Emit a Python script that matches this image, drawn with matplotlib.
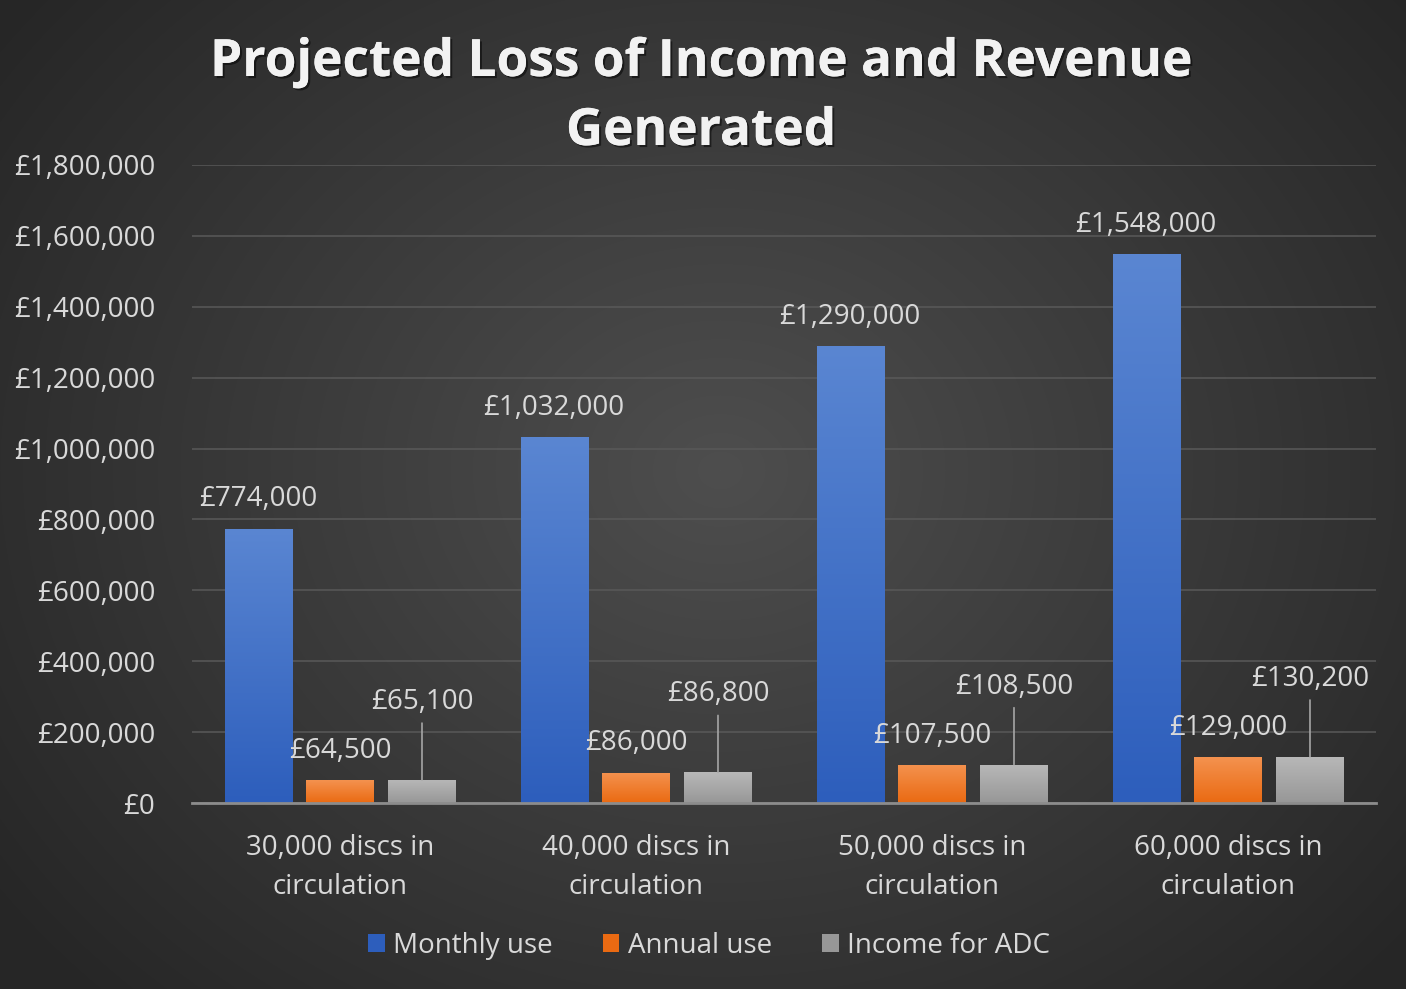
import numpy as np
import matplotlib
matplotlib.use("Agg")
import matplotlib.pyplot as plt
from matplotlib.colors import LinearSegmentedColormap
import matplotlib.patheffects as pe

categories = ["30,000 discs in\ncirculation", "40,000 discs in\ncirculation",
              "50,000 discs in\ncirculation", "60,000 discs in\ncirculation"]
series_names = ["Monthly use", "Annual use", "Income for ADC"]
monthly = [774000, 1032000, 1290000, 1548000]
annual = [64500, 86000, 107500, 129000]
income = [65100, 86800, 108500, 130200]
yticks = [0, 200000, 400000, 600000, 800000, 1000000, 1200000, 1400000, 1600000, 1800000]
title_lines = ["Projected Loss of Income and Revenue", "Generated"]

FONT = ["Open Sans", "DejaVu Sans"]
plt.rcParams['font.family'] = FONT

W, H = 1406, 989
fig = plt.figure(figsize=(W / 100, H / 100), dpi=100)

# background radial gradient
bg = fig.add_axes([0, 0, 1, 1])
yy, xx = np.mgrid[0:H, 0:W]
cx, cy = 720, 470
r = np.sqrt(((xx - cx) / 900.0) ** 2 + ((yy - cy) / 750.0) ** 2)
r = np.clip(r, 0, 1)
c_in = np.array([0x4e, 0x4e, 0x4e]) / 255
c_out = np.array([0x26, 0x26, 0x26]) / 255
img = c_in[None, None, :] * (1 - r[..., None]) + c_out[None, None, :] * r[..., None]
bg.imshow(img, aspect='auto', extent=[0, 1, 0, 1], origin='upper')
bg.set_axis_off()

ax = fig.add_axes([192 / W, 1 - 803 / H, (1376 - 192) / W, (803 - 165) / H])
ax.patch.set_alpha(0)

x = np.arange(len(categories))
bw = 0.2264
off = 0.277
grads = [("#5a86d2", "#2d5ebc"), ("#f4924f", "#ea6a12"), ("#b8b8b8", "#979797")]
all_series = [monthly, annual, income]
bar_sets = []
for i, (vals, name) in enumerate(zip(all_series, series_names)):
    bars = ax.bar(x + (i - 1) * off, vals, bw, color=grads[i][1], label=name, zorder=3)
    bar_sets.append(bars)
    cmap = LinearSegmentedColormap.from_list("g%d" % i, [grads[i][1], grads[i][0]])
    for b in bars:
        x0, y0 = b.get_x(), b.get_y()
        w, h = b.get_width(), b.get_height()
        im = ax.imshow(np.linspace(0, 1, 256).reshape(-1, 1), cmap=cmap, aspect='auto',
                       extent=[x0, x0 + w, y0, y0 + h], origin='lower', zorder=3.5)
        im.set_clip_path(b)
ax.set_xlim(-0.5, 3.5)
ax.set_ylim(0, 1800000)

lab_color = "#d9d9d9"
fs = 20
# labels
for b, v in zip(bar_sets[0], monthly):
    ax.annotate("£{:,}".format(v), (b.get_x() + b.get_width() / 2, v), xytext=(0, 21),
                textcoords='offset points', ha='center', va='center', color=lab_color,
                fontsize=fs, zorder=6)
for b, v in zip(bar_sets[1], annual):
    ax.annotate("£{:,}".format(v), (b.get_x() + b.get_width() / 2, v), xytext=(0, 21),
                textcoords='offset points', ha='center', va='center', color=lab_color,
                fontsize=fs, zorder=6)
for b, v in zip(bar_sets[2], income):
    cxb = b.get_x() + b.get_width() / 2
    ax.annotate("£{:,}".format(v), (cxb, v), xytext=(0, 56),
                textcoords='offset points', ha='center', va='center', color=lab_color,
                fontsize=fs, zorder=6,
                arrowprops=dict(arrowstyle='-', color='#a6a6a6', lw=1.2, shrinkA=3, shrinkB=0))

ax.set_yticks(yticks)
ax.set_yticklabels(["£{:,}".format(t) for t in yticks])
ax.set_xticks(x)
ax.set_xticklabels(categories, linespacing=1.53)
ax.tick_params(axis='both', length=0, colors=lab_color, labelsize=fs)
ax.tick_params(axis='y', pad=26.5)
ax.tick_params(axis='x', pad=22)
ax.grid(axis='y', color='#595959', lw=1.1, zorder=0)
for s in ['top', 'right', 'left']:
    ax.spines[s].set_visible(False)
ax.spines['bottom'].set_color('#8c8c8c')
ax.spines['bottom'].set_linewidth(2)
ax.spines['bottom'].set_zorder(4)

shadow = [pe.withSimplePatchShadow(offset=(1.5, -1.5), shadow_rgbFace='black', alpha=0.5), pe.Normal()]
for ty, line in zip([63, 132], title_lines):
    fig.text(701 / W, 1 - ty / H, line, ha='center', va='center', color='#f2f2f2',
             fontsize=37, fontweight='bold', path_effects=shadow)

leg = fig.legend(loc='center', bbox_to_anchor=(709 / W, 1 - 946 / H), ncol=3, frameon=False,
                 fontsize=fs, labelcolor=lab_color, handlelength=0.6, handleheight=0.6,
                 handletextpad=0.3, columnspacing=1.8)

fig.savefig("out.png", dpi=100)
